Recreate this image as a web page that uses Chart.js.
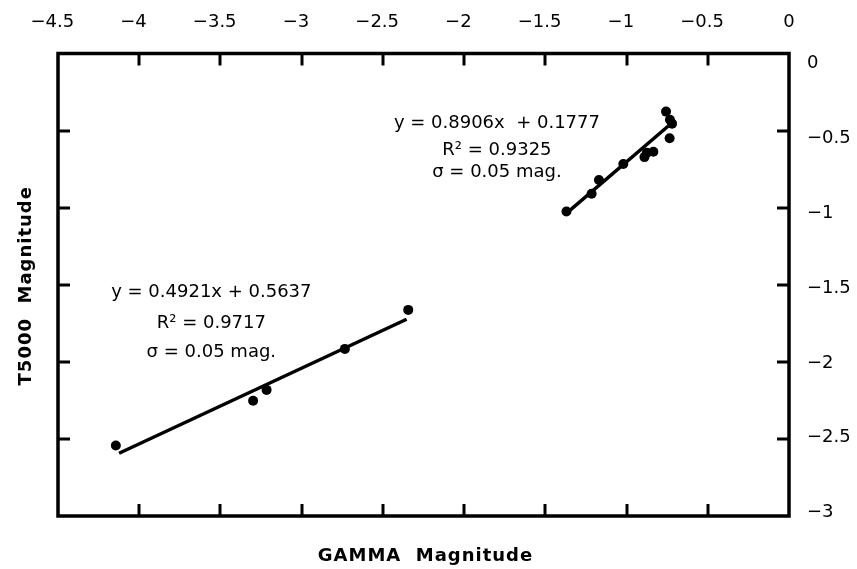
<!DOCTYPE html>
<html>
<head>
<meta charset="utf-8">
<script src="https://cdn.jsdelivr.net/npm/chart.js@4.4.1/dist/chart.umd.min.js"></script>
<style>
  html, body { margin: 0; padding: 0; background: #fff; }
  #wrap { width: 857px; height: 569px; }
</style>
</head>
<body>
<div id="wrap"><canvas id="chart"></canvas></div>
<script>
// values
const xTicks = [-4.5, -4, -3.5, -3, -2.5, -2, -1.5, -1, -0.5, 0];
const yTicks = [0, -0.5, -1, -1.5, -2, -2.5, -3];

// faint group (lower left)
const faintX = [-4.144, -3.299, -3.216, -2.734, -2.344];
const faintY = [-2.543, -2.252, -2.182, -1.916, -1.663];
const faintFitX = [-4.124, -2.354];
const faintFitY = [-2.593, -1.724];

// bright group (upper right)
const brightX = [-1.37, -1.215, -1.17, -1.02, -0.89, -0.875, -0.835, -0.757, -0.733, -0.72, -0.735];
const brightY = [-1.025, -0.91, -0.82, -0.717, -0.672, -0.643, -0.637, -0.377, -0.43, -0.455, -0.55];
const brightFitX = [-1.367, -0.743];
const brightFitY = [-1.034, -0.47];

const faintNote = ['y = 0.4921x + 0.5637', 'R\u00b2 = 0.9717', '\u03c3 = 0.05 mag.'];
const brightNote = ['y = 0.8906x  + 0.1777', 'R\u00b2 = 0.9325', '\u03c3 = 0.05 mag.'];

const xTitle = 'GAMMA  Magnitude';
const yTitle = 'T5000  Magnitude';

const pts = (xs, ys) => xs.map((x, i) => ({ x: x, y: ys[i] }));
const minus = v => v < 0 ? '\u2212' + Math.abs(v) : String(v);
const FONT = "'DejaVu Sans', sans-serif";

// frame, inner tick marks, notes and axis titles
const decor = {
    id: 'decor',
    afterDatasetsDraw(chart) {
        const { ctx, chartArea: a, scales } = chart;
        const sx = scales.x, sy = scales.y;
        ctx.save();
        ctx.strokeStyle = '#000';
        ctx.lineWidth = 3;
        ctx.beginPath();
        xTicks.slice(1, -1).forEach(v => {
            const p = Math.round(sx.getPixelForValue(v));
            ctx.moveTo(p, a.top); ctx.lineTo(p, a.top + 12);
            ctx.moveTo(p, a.bottom); ctx.lineTo(p, a.bottom - 12);
        });
        yTicks.slice(1, -1).forEach(v => {
            const p = Math.round(sy.getPixelForValue(v));
            ctx.moveTo(a.left, p); ctx.lineTo(a.left + 12, p);
            ctx.moveTo(a.right, p); ctx.lineTo(a.right - 12, p);
        });
        ctx.stroke();
        ctx.lineWidth = 3.5;
        ctx.strokeRect(a.left, a.top, a.right - a.left, a.bottom - a.top);

        // regression notes
        ctx.fillStyle = '#000';
        ctx.font = '18px ' + FONT;
        ctx.textAlign = 'center';
        ctx.textBaseline = 'alphabetic';
        const notes = [
            { lines: brightNote, x: -1.798, ys: [-0.486, -0.658, -0.804] },
            { lines: faintNote, x: -3.556, ys: [-1.579, -1.782, -1.967] }
        ];
        notes.forEach(n => {
            n.lines.forEach((t, i) => {
                ctx.fillText(t, sx.getPixelForValue(n.x), sy.getPixelForValue(n.ys[i]));
            });
        });

        // axis titles
        ctx.font = 'bold 18px ' + FONT;
        ctx.letterSpacing = '1px';
        ctx.fillText(xTitle, (a.left + a.right) / 2 + 2, 560.5);
        ctx.translate(30.5, (a.top + a.bottom) / 2 + 1);
        ctx.rotate(-Math.PI / 2);
        ctx.fillText(yTitle, 0, 0);
        ctx.restore();
    }
};

const ctx = document.getElementById('chart');
new Chart(ctx, {
    type: 'scatter',
    data: {
        datasets: [{
            label: 'faint',
            data: pts(faintX, faintY),
            backgroundColor: '#000',
            borderWidth: 0,
            pointRadius: 5
        }, {
            label: 'bright',
            data: pts(brightX, brightY),
            backgroundColor: '#000',
            borderWidth: 0,
            pointRadius: 5
        }, {
            label: 'faint fit',
            data: pts(faintFitX, faintFitY),
            showLine: true,
            borderColor: '#000',
            borderWidth: 3.5,
            pointRadius: 0
        }, {
            label: 'bright fit',
            data: pts(brightFitX, brightFitY),
            showLine: true,
            borderColor: '#000',
            borderWidth: 3.5,
            pointRadius: 0
        }]
    },
    options: {
        responsive: true,
        maintainAspectRatio: false,
        animation: false,
        layout: { padding: { left: 58, bottom: 53, top: 0, right: 0 } },
        plugins: {
            legend: { display: false },
            tooltip: { enabled: false }
        },
        scales: {
            x: {
                type: 'linear',
                position: 'top',
                min: -4.5,
                max: 0,
                afterFit: s => { s.height = 53.5; },
                afterBuildTicks: s => { s.ticks = xTicks.map(v => ({ value: v })); },
                ticks: {
                    padding: 20,
                    color: '#000',
                    font: { family: FONT, size: 18 },
                    maxRotation: 0,
                    autoSkip: false,
                    callback: v => v < 0 ? minus(v) + '  ' : minus(v)
                },
                grid: { display: false, drawTicks: false },
                border: { display: false }
            },
            y: {
                type: 'linear',
                display: false,
                min: -3,
                max: 0
            },
            yLab: {
                type: 'linear',
                position: 'right',
                min: -3.0227,
                max: 0.0668,
                afterFit: s => { s.width = 68; },
                afterBuildTicks: s => { s.ticks = yTicks.map(v => ({ value: v })); },
                ticks: {
                    padding: 18,
                    color: '#000',
                    font: { family: FONT, size: 18 },
                    autoSkip: false,
                    callback: v => minus(v)
                },
                grid: { display: false, drawTicks: false },
                border: { display: false }
            }
        }
    },
    plugins: [decor]
});
</script>
</body>
</html>
